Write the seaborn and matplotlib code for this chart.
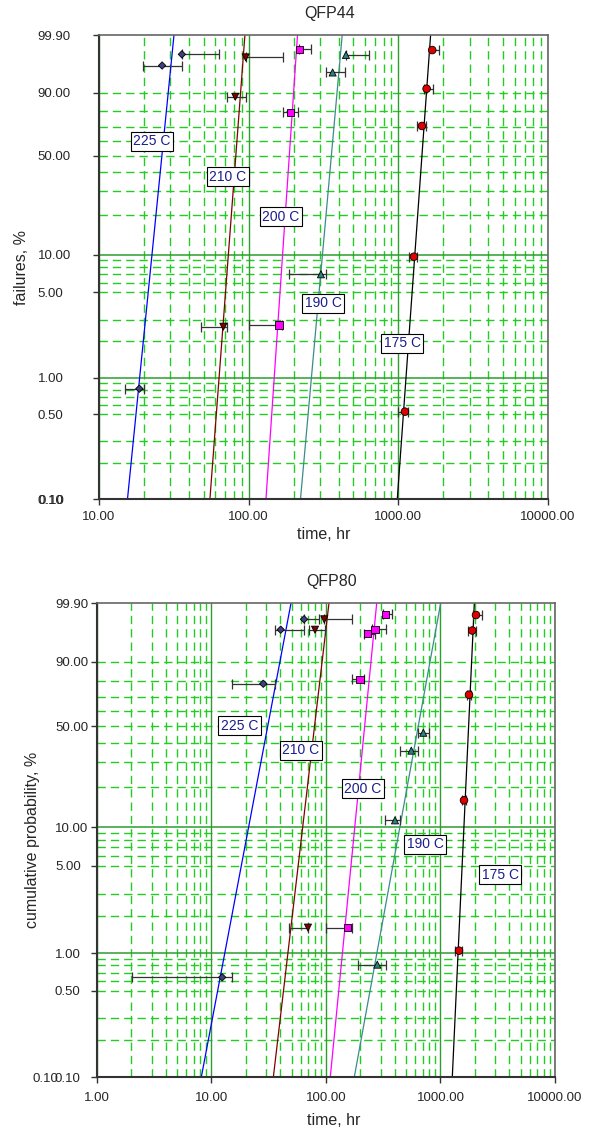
import numpy as np
import pandas as pd
import matplotlib
matplotlib.use("Agg")
import matplotlib.pyplot as plt
import matplotlib.ticker as mticker
import matplotlib.transforms as mtransforms
import seaborn as sns

# ---- data -------------------------------------------------------------
temps = ["225 C", "210 C", "200 C", "190 C", "175 C"]

# QFP44 fitted lines: time (hr) at 0.1 % and at 99.9 %
q44_fit_t01 = [15.5, 55.1, 130.5, 222.0, 984.0]
q44_fit_t999 = [31.7, 94.4, 212.0, 421.7, 1643.0]

# QFP44 failure points (time, cumulative %, time range)
q44_temp = ["225 C", "225 C", "225 C",
            "210 C", "210 C", "210 C",
            "200 C", "200 C", "200 C",
            "190 C", "190 C", "190 C",
            "175 C", "175 C", "175 C", "175 C", "175 C"]
q44_time = [35.8, 26.4, 18.6, 95.5, 81.4, 67.7, 217.8, 190.8, 159.4,
            446.7, 363.9, 304.0, 1685, 1545, 1438, 1271, 1107]
q44_prob = [99.16, 97.9, 0.815, 98.9, 88.1, 2.63, 99.48, 79.5, 2.72,
            99.11, 96.6, 6.98, 99.44, 91.65, 70.5, 9.62, 0.527]
q44_low = [35.8, 19.8, 14.9, 95.5, 71.9, 47.8, 217.8, 168.7, 100.9,
           446.7, 326.9, 185.9, 1608, 1483, 1331, 1172, 998]
q44_high = [63.6, 36.0, 20.0, 168.7, 95.9, 71.9, 260.7, 214.5, 166.1,
            633, 441.8, 326.9, 1867, 1695, 1522, 1337, 1165]

# QFP80 fitted lines
q80_fit_t01 = [8.15, 34.7, 109.0, 176.7, 1268]
q80_fit_t999 = [49.5, 106.2, 277.3, 1004, 1975]

# QFP80 failure points
q80_temp = ["225 C", "225 C", "225 C", "225 C",
            "210 C", "210 C", "210 C",
            "200 C", "200 C", "200 C", "200 C", "200 C",
            "190 C", "190 C", "190 C", "190 C",
            "175 C", "175 C", "175 C", "175 C", "175 C"]
q80_time = [64.3, 40.2, 28.3, 12.4, 96.6, 80.2, 69.6,
            332.2, 267.9, 230.8, 198.2, 153.5,
            707.6, 555.9, 400.5, 280.5,
            2042, 1895, 1774, 1604, 1451]
q80_prob = [99.39, 98.5, 78.4, 0.64, 99.39, 98.5, 1.61,
            99.63, 98.55, 97.97, 81.07, 1.61,
            45.9, 35.6, 11.3, 0.81,
            99.6, 98.4, 71.3, 16.0, 1.05]
q80_low = [64.3, 36.1, 15.0, 2.01, 96.6, 71.5, 47.8,
           312.7, 250.2, 214.7, 167.7, 100.0,
           640, 445.6, 327.5, 189.2,
           1911, 1745, 1710, 1545, 1338]
q80_high = [87.4, 64.6, 36.1, 15.0, 168.7, 98.0, 69.6,
            374.8, 332.0, 268.0, 214.7, 168.7,
            798, 636, 443, 332,
            2303, 2057, 1840, 1665, 1549]

y_ticks = [0.1, 0.5, 1, 5, 10, 50, 90, 99.9]

# ---- styles / layout --------------------------------------------------
line_colors = {"225 C": "#0000ff", "210 C": "#800000", "200 C": "#ff00ff",
               "190 C": "#3d8b8b", "175 C": "#000000"}
face_colors = {"225 C": "#404080", "210 C": "#800000", "200 C": "#ff00ff",
               "190 C": "#2f7f7f", "175 C": "#e00000"}
marker_shapes = {"225 C": "D", "210 C": "v", "200 C": "s", "190 C": "^", "175 C": "o"}
marker_sizes = {"225 C": 14, "210 C": 26, "200 C": 28, "190 C": 26, "175 C": 30}

q44_label_pos = [(22.6, 59.7), (72.7, 37.0), (164.4, 19.4), (313.5, 4.1), (1065, 1.92)]
q80_label_pos = [(17.5, 50.4), (60.3, 35.7), (210.4, 19.5), (732, 7.42), (3309, 4.24)]

dashed_probs = [90, 80, 70, 60, 50, 40, 30, 20, 9, 8, 7, 6, 5, 3, 2,
                0.9, 0.8, 0.7, 0.6, 0.5, 0.3, 0.2]
solid_probs = [10, 1]

GREEN = "#22cc22"
DKGREEN = "#2e9e2e"


def weib(p):
    p = np.clip(np.asarray(p, dtype=float), 1e-9, 100 - 1e-9)
    return np.log(-np.log(1 - p / 100.0))


def weib_inv(w):
    return 100.0 * (1 - np.exp(-np.exp(np.asarray(w, dtype=float))))


sns.set_style("ticks")
plt.rcParams["font.family"] = ["Liberation Sans", "DejaVu Sans"]

fig = plt.figure(figsize=(5.94, 11.28), dpi=100)
ax1 = fig.add_axes([0.16667, 0.55762, 0.75589, 0.41135])
ax2 = fig.add_axes([0.1633, 0.04521, 0.77104, 0.42021])


def draw_panel(ax, title, ylabel, xmin, fit_lo, fit_hi, p_temp, p_time, p_prob,
               p_low, p_high, label_pos, ypad, title_x, title_pad):
    ax.set_xscale("log")
    ax.set_yscale("function", functions=(weib, weib_inv))

    # grid
    for p in dashed_probs:
        ax.axhline(p, color=GREEN, lw=1.0, ls=(0, (6, 3.6)), zorder=0.5)
    for p in solid_probs:
        ax.axhline(p, color=DKGREEN, lw=1.1, zorder=0.6)
    ax.grid(True, which="minor", axis="x", color=GREEN, lw=1.0, ls=(0, (6, 3.6)))
    ax.grid(True, which="major", axis="x", color=DKGREEN, lw=1.0, ls="-")

    # fitted lines
    fit = pd.DataFrame({"temp": temps + temps,
                        "time": fit_lo + fit_hi,
                        "prob": [0.1] * len(temps) + [99.9] * len(temps)})
    sns.lineplot(data=fit, x="time", y="prob", hue="temp", palette=line_colors,
                 estimator=None, sort=False, legend=False, linewidth=0.9, ax=ax)

    # points with time ranges
    t = np.array(p_time)
    ax.errorbar(t, p_prob, xerr=[t - np.array(p_low), np.array(p_high) - t],
                fmt="none", ecolor="#333333", elinewidth=0.9, capsize=3.5,
                capthick=0.9, zorder=4)
    pts = pd.DataFrame({"temp": p_temp, "time": p_time, "prob": p_prob})
    sns.scatterplot(data=pts, x="time", y="prob", hue="temp", style="temp",
                    size="temp", palette=face_colors, markers=marker_shapes,
                    sizes=marker_sizes, edgecolor="black", linewidth=0.6,
                    legend=False, ax=ax, zorder=5)

    for name, (lx, ly) in zip(temps, label_pos):
        ax.text(lx, ly, name, ha="center", va="center", fontsize=10,
                color="#1c1c8c", zorder=6,
                bbox=dict(boxstyle="square,pad=0.18", fc="white", ec="black", lw=0.8))

    ax.set_xlim(xmin, 10000)
    ax.set_ylim(0.1, 99.9)
    ax.yaxis.set_major_locator(mticker.FixedLocator(y_ticks))
    ax.yaxis.set_major_formatter(mticker.FuncFormatter(lambda v, _: f"{v:.2f}"))
    ax.yaxis.set_minor_locator(mticker.NullLocator())
    ax.xaxis.set_major_formatter(mticker.FuncFormatter(lambda v, _: f"{v:.2f}"))
    ax.xaxis.set_minor_formatter(mticker.NullFormatter())

    ax.tick_params(axis="y", which="major", length=4.3, width=1, color="#333333",
                   labelsize=9.5, pad=ypad, direction="out")
    ax.tick_params(axis="x", which="major", length=4.3, width=1, color="#333333",
                   labelsize=9.5, direction="out")
    ax.tick_params(axis="x", which="minor", length=0)
    for lbl in ax.get_yticklabels():
        lbl.set_horizontalalignment("left")

    for side in ["left", "bottom"]:
        ax.spines[side].set_color("#333333")
        ax.spines[side].set_linewidth(1.5)
    for side in ["top", "right"]:
        ax.spines[side].set_color("#666666")
        ax.spines[side].set_linewidth(1.2)
        ax.spines[side].set_visible(True)

    ax.set_title(title, fontsize=11.5, pad=title_pad, x=title_x)
    ax.set_ylabel(ylabel, fontsize=11.5)
    ax.set_xlabel("time, hr", fontsize=11.5)


draw_panel(ax1, "QFP44", "failures, %", 10, q44_fit_t01, q44_fit_t999,
           q44_temp, q44_time, q44_prob, q44_low, q44_high, q44_label_pos,
           ypad=40, title_x=0.514, title_pad=12)
draw_panel(ax2, "QFP80", "cumulative probability, %", 1, q80_fit_t01, q80_fit_t999,
           q80_temp, q80_time, q80_prob, q80_low, q80_high, q80_label_pos,
           ypad=26, title_x=0.513, title_pad=12.5)

ax1.tick_params(axis="x", pad=4)
ax2.tick_params(axis="x", pad=6.3)
ax1.yaxis.set_label_coords(-0.155, 0.5)
ax2.yaxis.set_label_coords(-0.1245, 0.5)
ax1.xaxis.set_label_coords(0.5, -0.0603)
ax2.xaxis.set_label_coords(0.517, -0.0753)

# the bottom 0.10 label is printed twice in the source chart
tr1 = mtransforms.blended_transform_factory(ax1.transAxes, ax1.transData)
ax1.annotate("0.10", xy=(0, 0.1), xycoords=tr1, xytext=(-43.8, 0),
             textcoords="offset points", ha="left", va="center_baseline", fontsize=9.5)
tr2 = mtransforms.blended_transform_factory(ax2.transAxes, ax2.transData)
ax2.annotate("0.10", xy=(0, 0.1), xycoords=tr2, xytext=(-46.1, 0),
             textcoords="offset points", ha="left", va="center_baseline", fontsize=9.5)

fig.savefig("out.png", dpi=100)
